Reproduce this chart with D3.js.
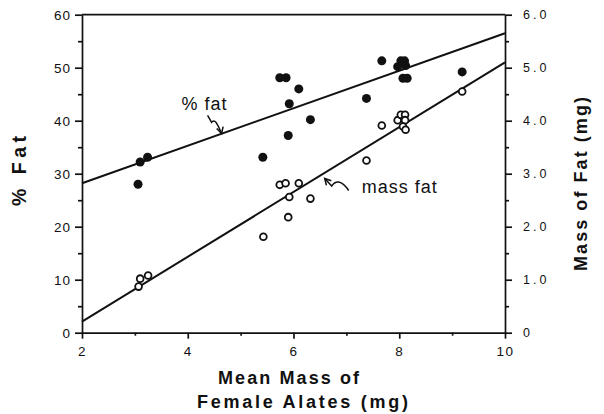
<!DOCTYPE html>
<html>
<head>
<meta charset="utf-8">
<script src="https://cdn.jsdelivr.net/npm/d3@7"></script>
<style>
  html, body { margin: 0; padding: 0; background: #fff; }
  svg { display: block; }
  text { font-family: "Liberation Sans", Arial, Helvetica, sans-serif; fill: #111; }
</style>
</head>
<body>
<svg id="chart" width="604" height="414"></svg>
<script>
// Mean mass of female alates (mg) paired with % body fat (filled dots)
const pctX   = [3.06, 3.10, 3.24, 5.42, 5.74, 5.86, 5.90, 5.92, 6.10, 6.32, 7.38, 7.67, 7.97, 8.03, 8.10, 8.12, 8.07, 8.15, 9.19];
const pctFat = [28.0, 32.2, 33.1, 33.1, 48.1, 48.1, 37.2, 43.2, 46.0, 40.2, 44.2, 51.3, 50.2, 51.3, 51.3, 50.4, 48.0, 48.0, 49.2];

// Mean mass of female alates (mg) paired with mass of fat in mg (open circles)
const massX   = [3.07, 3.10, 3.25, 5.43, 5.74, 5.85, 5.90, 5.92, 6.10, 6.32, 7.38, 7.67, 7.97, 8.03, 8.11, 8.11, 8.07, 8.12, 9.19];
const massFat = [0.87, 1.02, 1.08, 1.81, 2.79, 2.82, 2.18, 2.56, 2.82, 2.53, 3.25, 3.91, 4.01, 4.11, 4.11, 4.01, 3.89, 3.83, 4.55];

// Fitted regression lines, given by their values at x = 2 and x = 10
const pctFitX  = [2, 10];
const pctFitY  = [28.2, 56.5];
const massFitX = [2, 10];
const massFitY = [0.21, 5.1];

// Tick values and labels
const xTicks      = [2, 4, 6, 8, 10];
const xMinorTicks = [3, 5, 7, 9];
const leftTicks   = [0, 10, 20, 30, 40, 50, 60];
const leftMinor   = [5, 15, 25, 35, 45, 55];
const rightTicks  = [0, 1, 2, 3, 4, 5, 6];
const rightLabels = ["0", "1.0", "2.0", "3.0", "4.0", "5.0", "6.0"];
const rightMinor  = [0.5, 1.5, 2.5, 3.5, 4.5, 5.5];

const svg = d3.select("#chart");
const plotLeft = 82, plotRight = 505, plotTop = 14.7, plotBottom = 332.7;

const x = d3.scaleLinear().domain([2, 10]).range([plotLeft, plotRight]);
const yPct = d3.scaleLinear().domain([0, 60]).range([plotBottom, plotTop]);
const yMass = d3.scaleLinear().domain([0, 6]).range([plotBottom, plotTop]);

const axisStroke = 1.7;

// Frame top line
svg.append("line")
  .attr("x1", x(2)).attr("x2", x(10))
  .attr("y1", yPct(60)).attr("y2", yPct(60))
  .attr("stroke", "#111").attr("stroke-width", axisStroke);

function styleAxis(g) {
  g.selectAll("path.domain").attr("stroke", "#111").attr("stroke-width", axisStroke);
  g.selectAll(".tick line").attr("stroke", "#111").attr("stroke-width", axisStroke);
}

// Left axis (% fat)
const gLeft = svg.append("g").attr("transform", `translate(${plotLeft},0)`)
  .call(d3.axisLeft(yPct).tickValues(leftTicks).tickSize(7).tickSizeOuter(0).tickPadding(5));
styleAxis(gLeft);
gLeft.selectAll(".tick text")
  .attr("font-size", 13.5).attr("letter-spacing", "1px")
  .attr("font-family", "Liberation Sans, Arial, sans-serif").attr("fill", "#111")
  .attr("dx", "1");
svg.append("g").attr("transform", `translate(${plotLeft},0)`)
  .call(d3.axisLeft(yPct).tickValues(leftMinor).tickSize(4).tickFormat(""))
  .call(g => g.select("path.domain").remove())
  .call(styleAxis);

// Right axis (mass of fat, mg)
const gRight = svg.append("g").attr("transform", `translate(${plotRight},0)`)
  .call(d3.axisRight(yMass).tickValues(rightTicks).tickSize(7).tickSizeOuter(0)
    .tickPadding(11).tickFormat((d, i) => rightLabels[i]));
styleAxis(gRight);
gRight.selectAll(".tick text")
  .attr("font-size", 12.5).attr("letter-spacing", "3px")
  .attr("font-family", "Liberation Sans, Arial, sans-serif").attr("fill", "#111");
svg.append("g").attr("transform", `translate(${plotRight},0)`)
  .call(d3.axisRight(yMass).tickValues(rightMinor).tickSize(4).tickFormat(""))
  .call(g => g.select("path.domain").remove())
  .call(styleAxis);

// Bottom axis
const gBottom = svg.append("g").attr("transform", `translate(0,${plotBottom})`)
  .call(d3.axisBottom(x).tickValues(xTicks).tickSize(6).tickSizeOuter(0).tickPadding(8));
styleAxis(gBottom);
gBottom.selectAll(".tick text")
  .attr("font-size", 13.5).attr("letter-spacing", "1.5px")
  .attr("font-family", "Liberation Sans, Arial, sans-serif").attr("fill", "#111");
svg.append("g").attr("transform", `translate(0,${plotBottom})`)
  .call(d3.axisBottom(x).tickValues(xMinorTicks).tickSize(3).tickFormat(""))
  .call(g => g.select("path.domain").remove())
  .call(styleAxis);

// Regression lines
const line = (sx, sy) => d3.line().x(d => sx(d[0])).y(d => sy(d[1]));
svg.append("path")
  .datum(d3.zip(pctFitX, pctFitY))
  .attr("d", line(x, yPct))
  .attr("fill", "none").attr("stroke", "#111").attr("stroke-width", 2);
svg.append("path")
  .datum(d3.zip(massFitX, massFitY))
  .attr("d", line(x, yMass))
  .attr("fill", "none").attr("stroke", "#111").attr("stroke-width", 2);

// Filled dots: % fat
svg.append("g").selectAll("circle")
  .data(d3.zip(pctX, pctFat))
  .join("circle")
  .attr("cx", d => x(d[0])).attr("cy", d => yPct(d[1]))
  .attr("r", 4.5).attr("fill", "#111");

// Open circles: mass of fat
svg.append("g").selectAll("circle")
  .data(d3.zip(massX, massFat))
  .join("circle")
  .attr("cx", d => x(d[0])).attr("cy", d => yMass(d[1]))
  .attr("r", 3.4).attr("fill", "#fff").attr("stroke", "#111").attr("stroke-width", 1.8);

// Series labels with squiggly pointer arrows
function arrowHead(g, tip, from) {
  const ang = Math.atan2(from[1] - tip[1], from[0] - tip[0]);
  const len = 7, spread = 0.5;
  const p1 = [tip[0] + len * Math.cos(ang + spread), tip[1] + len * Math.sin(ang + spread)];
  const p2 = [tip[0] + len * Math.cos(ang - spread), tip[1] + len * Math.sin(ang - spread)];
  g.append("path")
    .attr("d", `M${p1[0]},${p1[1]}L${tip[0]},${tip[1]}L${p2[0]},${p2[1]}`)
    .attr("fill", "none").attr("stroke", "#111").attr("stroke-width", 1.5);
}

const annot = svg.append("g");
// "% fat"
annot.append("text")
  .attr("x", x(3.88)).attr("y", yPct(42.0))
  .attr("font-size", 18).attr("letter-spacing", "1px")
  .text("% fat");
{
  const tx = x(4.64), ty = yPct(37.6);
  const g = annot.append("g").attr("transform", `translate(${tx},${ty})`);
  g.append("path")
    .attr("d", "M-14,-18 L-10,-11 Q-8,-14 -5.5,-11 Q-3,-7 0,0")
    .attr("fill", "none").attr("stroke", "#111").attr("stroke-width", 1.5);
  arrowHead(g, [0, 0], [-2, -7]);
}
// "mass fat"
annot.append("text")
  .attr("x", x(7.29)).attr("y", yPct(26.4))
  .attr("font-size", 18).attr("letter-spacing", "1px")
  .text("mass fat");
{
  const tx = x(6.59), ty = yMass(2.91);
  const g = annot.append("g").attr("transform", `translate(${tx},${ty})`);
  g.append("path")
    .attr("d", "M0,0 L7,7.5 Q10,3 14,3.5 Q19,4.5 24,12")
    .attr("fill", "none").attr("stroke", "#111").attr("stroke-width", 1.5);
  arrowHead(g, [0, 0], [7, 7.5]);
}

// Axis titles
const titleFont = { size: 18, weight: "bold" };
svg.append("text")
  .attr("x", 288.5).attr("y", 384.3)
  .attr("text-anchor", "middle")
  .attr("font-size", titleFont.size).attr("font-weight", titleFont.weight)
  .attr("textLength", 141).attr("lengthAdjust", "spacing")
  .text("Mean Mass of");
svg.append("text")
  .attr("x", 302.5).attr("y", 407.7)
  .attr("text-anchor", "middle")
  .attr("font-size", titleFont.size).attr("font-weight", titleFont.weight)
  .attr("textLength", 211).attr("lengthAdjust", "spacing")
  .text("Female Alates (mg)");
svg.append("text")
  .attr("transform", "translate(25.5,171) rotate(-90)")
  .attr("text-anchor", "middle")
  .attr("font-size", 19.5).attr("font-weight", titleFont.weight)
  .attr("textLength", 70).attr("lengthAdjust", "spacing")
  .text("% Fat");
svg.append("text")
  .attr("transform", "translate(587,184) rotate(-90)")
  .attr("text-anchor", "middle")
  .attr("font-size", titleFont.size).attr("font-weight", titleFont.weight)
  .attr("textLength", 174).attr("lengthAdjust", "spacing")
  .text("Mass of Fat (mg)");
</script>
</body>
</html>
